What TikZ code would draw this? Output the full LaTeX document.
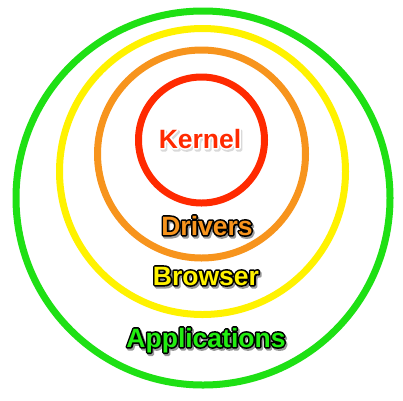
\documentclass[tikz,border=0pt]{standalone}
\usepackage{fontspec}
\setmainfont{Liberation Sans}
\definecolor{ringgreen}{HTML}{1EE014}
\definecolor{ringyellow}{HTML}{FFF200}
\definecolor{ringorange}{HTML}{F7941D}
\definecolor{ringred}{HTML}{FF2A00}
\definecolor{txtgreen}{HTML}{22EE11}
% stroked (outline only) text: #1 stroke width, #2 text
\newcommand{\outlinetext}[2]{\special{pdf:literal direct 1 Tr #1 w 1 j 1 J}#2\special{pdf:literal direct 0 Tr 1 w}}
\newcommand{\filloutlinetext}[2]{\special{pdf:literal direct 2 Tr #1 w 1 j 1 J}#2\special{pdf:literal direct 0 Tr 1 w}}
\begin{document}
\begin{tikzpicture}[x=1pt,y=-1pt,
  ring/.style={line width=7pt},
  lbl/.style={anchor=base, inner sep=0pt, font=\fontsize{26.5}{30}\selectfont\bfseries},
  shadowlbl/.style={lbl, text=black!40}]
\useasboundingbox (0,0) rectangle (403,400);
\fill[white] (0,0) rectangle (403,400);
\draw[ring, ringgreen] (203,198) circle[radius=187];
\draw[ring, ringyellow] (202.5,171.5) circle[radius=143];
\draw[ring, ringorange] (201.5,154) circle[radius=104];
\draw[ring, ringred] (201.5,140) circle[radius=63];
% shadows
\node[shadowlbl, text=black!15] (kshadow) at (201.5,150) {\filloutlinetext{3.2}{Kernel}};
\node[shadowlbl] (dshadow) at (208.5,237) {\filloutlinetext{3.2}{Drivers}};
\node[shadowlbl] (bshadow) at (207.5,287) {\filloutlinetext{3.2}{Browser}};
\node[shadowlbl] (ashadow) at (207.5,349) {\filloutlinetext{3.2}{Applications}};
% outlines
\node[lbl, text=white] (kout) at (200,148) {\outlinetext{3.2}{Kernel}};
\node[lbl, text=black] (dout) at (207,235) {\outlinetext{3.2}{Drivers}};
\node[lbl, text=black] (bout) at (206,285) {\outlinetext{3.2}{Browser}};
\node[lbl, text=black] (aout) at (206,347) {\outlinetext{3.2}{Applications}};
% fills
\node[lbl, text=ringred] (kernel) at (200,148) {Kernel};
\node[lbl, text=ringorange] (drivers) at (207,235) {Drivers};
\node[lbl, text=ringyellow] (browser) at (206,285) {Browser};
\node[lbl, text=txtgreen] (apps) at (206,347) {Applications};
\end{tikzpicture}
\end{document}
